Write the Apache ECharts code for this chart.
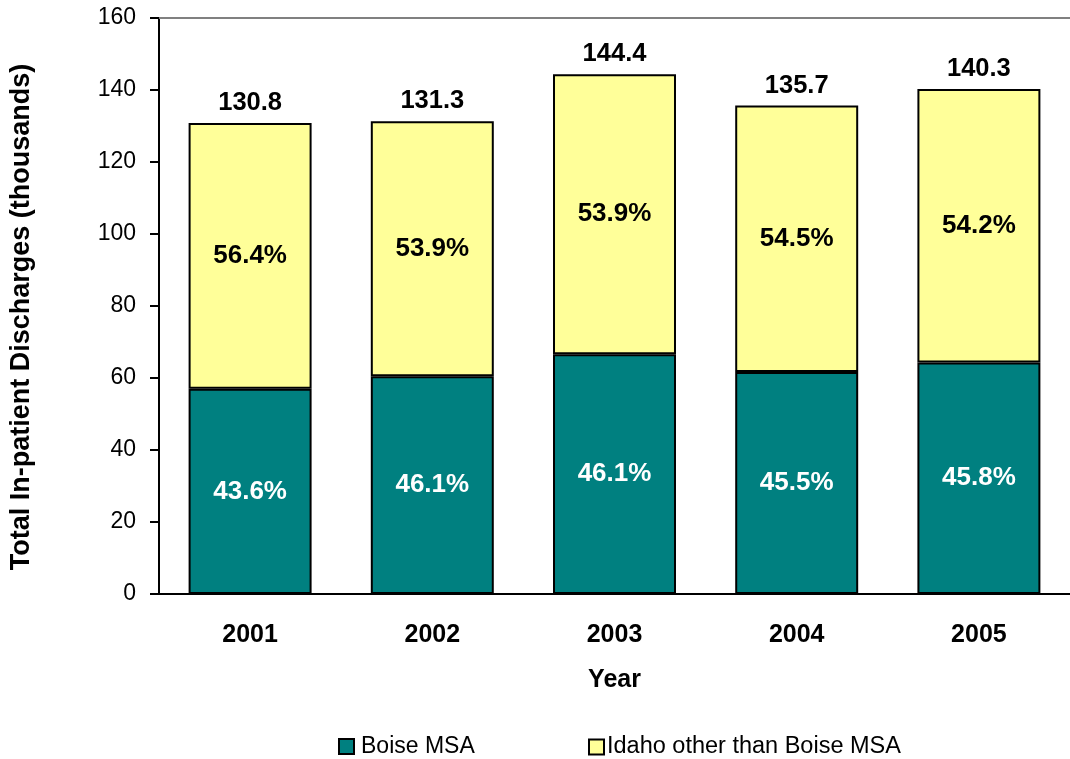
<!DOCTYPE html>
<html>
<head>
<meta charset="utf-8">
<script src="https://cdn.jsdelivr.net/npm/echarts@6/dist/echarts.min.js"></script>
<style>
  html, body { margin: 0; padding: 0; background: #fff; }
  #chart { width: 1070px; height: 759px; }
</style>
</head>
<body>
<div id="chart"></div>
<script>
// Total in-patient discharges (thousands) by year
const years = ['2001', '2002', '2003', '2004', '2005'];
const boiseMSA = [57.0, 60.5, 66.6, 61.7, 64.3];
const idahoOther = [73.8, 70.8, 77.8, 74.0, 76.0];
const totals = ['130.8', '131.3', '144.4', '135.7', '140.3'];
const boiseShare = ['43.6%', '46.1%', '46.1%', '45.5%', '45.8%'];
const otherShare = ['56.4%', '53.9%', '53.9%', '54.5%', '54.2%'];
const yTicks = [0, 20, 40, 60, 80, 100, 120, 140, 160];

const FONT = "'Liberation Sans', Arial, sans-serif";
const chart = echarts.init(document.getElementById('chart'));

chart.setOption({
  backgroundColor: '#ffffff',
  animation: false,
  textStyle: { fontFamily: FONT, color: '#000' },
  grid: { left: 159, top: 18, right: -5, bottom: 165, containLabel: false },
  legend: [
    {
      data: ['Boise MSA'],
      left: 338, top: 735, padding: 0,
      icon: 'rect', itemWidth: 15, itemHeight: 15, itemGap: 0,
      textStyle: { fontFamily: FONT, fontSize: 23, color: '#000', padding: [0, 0, 0, 2] },
      itemStyle: { borderColor: '#000', borderWidth: 2 }
    },
    {
      data: ['Idaho other than Boise MSA'],
      left: 588, top: 735, padding: 0,
      icon: 'rect', itemWidth: 15, itemHeight: 15, itemGap: 0,
      textStyle: { fontFamily: FONT, fontSize: 23.5, color: '#000', padding: [0, 0, 0, -2] },
      itemStyle: { borderColor: '#000', borderWidth: 2 }
    }
  ],
  xAxis: [
    {
      type: 'category',
      data: years,
      name: 'Year',
      nameLocation: 'middle',
      nameGap: 74,
      nameTextStyle: { fontFamily: FONT, fontSize: 25, fontWeight: 'bold', color: '#000' },
      axisLine: { show: true, lineStyle: { color: '#000', width: 2 } },
      axisTick: { show: false },
      axisLabel: { fontFamily: FONT, fontSize: 25, fontWeight: 'bold', color: '#000', margin: 29 }
    },
    {
      // plot-area top edge
      type: 'category',
      data: years,
      position: 'top',
      axisLine: { show: true, lineStyle: { color: '#808080', width: 2 } },
      axisTick: { show: false },
      axisLabel: { show: false }
    }
  ],
  yAxis: {
    type: 'value',
    min: yTicks[0],
    max: yTicks[yTicks.length - 1],
    interval: 20,
    name: 'Total In-patient Discharges (thousands)',
    nameLocation: 'middle',
    nameRotate: 90,
    nameGap: 124,
    nameTextStyle: { fontFamily: FONT, fontSize: 27, fontWeight: 'bold', color: '#000', padding: [0, 22, 0, 0] },
    axisLine: { show: true, lineStyle: { color: '#000', width: 2 } },
    axisTick: { show: true, length: 9, lineStyle: { color: '#000', width: 2 } },
    axisLabel: { fontFamily: FONT, fontSize: 23, color: '#000', margin: 23 },
    splitLine: { show: false }
  },
  series: [
    {
      name: 'Boise MSA',
      type: 'bar',
      stack: 'total',
      data: boiseMSA,
      barWidth: '67.5%',
      itemStyle: { color: '#008080', borderColor: '#000', borderWidth: 2 },
      label: {
        show: true,
        position: 'inside',
        fontFamily: FONT, fontSize: 26, fontWeight: 'bold', color: '#fff',
        formatter: p => boiseShare[p.dataIndex]
      }
    },
    {
      name: 'Idaho other than Boise MSA',
      type: 'bar',
      stack: 'total',
      data: idahoOther,
      barWidth: '67.5%',
      itemStyle: { color: '#FFFF99', borderColor: '#000', borderWidth: 2 },
      label: {
        show: true,
        position: 'inside',
        fontFamily: FONT, fontSize: 26, fontWeight: 'bold', color: '#000',
        formatter: p => otherShare[p.dataIndex]
      }
    },
    {
      // totals printed above each stacked column
      name: 'Total',
      type: 'bar',
      stack: 'total',
      data: years.map(() => 0),
      barWidth: '67.5%',
      itemStyle: { color: 'transparent' },
      label: {
        show: true,
        position: 'top',
        distance: 7,
        fontFamily: FONT, fontSize: 25.5, fontWeight: 'bold', color: '#000',
        formatter: p => totals[p.dataIndex]
      }
    }
  ]
});
</script>
</body>
</html>
